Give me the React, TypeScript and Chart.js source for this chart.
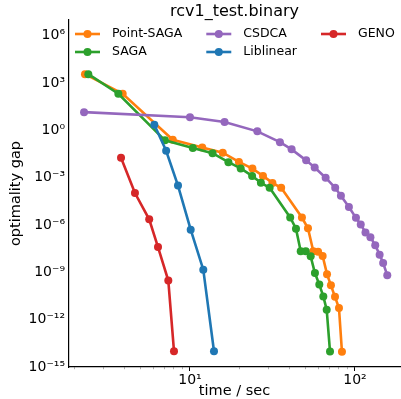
import React, { useEffect, useRef } from 'react';
import { Chart, registerables } from 'chart.js';

Chart.register(...registerables);

const FONT = '"DejaVu Sans", sans-serif';

const chartTitle = 'rcv1_test.binary';
const xAxisTitle = 'time / sec';
const yAxisTitle = 'optimality gap';

const seriesNames = ['Point-SAGA', 'SAGA', 'CSDCA', 'Liblinear', 'GENO'];
const seriesColors = ['#ff7f0e', '#2ca02c', '#9467bd', '#1f77b4', '#d62728'];

const pointSagaTime = [2.31, 3.91, 7.86, 11.87, 15.8, 19.8, 23.9, 27.7, 31.6, 35.7, 47.7, 51.9, 55.9, 59.8, 63.7, 67.7, 71.5, 75.7, 80.0, 83.4];
const pointSagaGap = [3700, 212, 0.257, 0.083, 0.039, 0.010, 3.8e-3, 1.3e-3, 4.7e-4, 2.3e-4, 3.0e-6, 6.2e-7, 2.2e-8, 2.0e-8, 1.1e-8, 7.7e-10, 1.5e-10, 2.8e-11, 5.5e-12, 9.2e-15];

const sagaTime = [2.42, 3.68, 7.05, 10.4, 13.7, 17.1, 20.3, 23.8, 26.9, 30.4, 40.5, 43.9, 46.9, 50.3, 53.9, 57.2, 60.8, 64.3, 67.4, 70.6];
const sagaGap = [3700, 212, 0.235, 0.078, 0.036, 9.7e-3, 3.9e-3, 1.3e-3, 4.8e-4, 2.3e-4, 3.0e-6, 5.9e-7, 2.2e-8, 2.2e-8, 1.04e-8, 9.1e-10, 1.67e-10, 3.0e-11, 4.3e-12, 9.5e-15];

const csdcaTime = [2.28, 10.0, 16.2, 25.6, 35.1, 41.3, 50.6, 57.0, 66.4, 75.9, 82.2, 91.9, 101.4, 108.4, 115.8, 124.1, 132.7, 141.1, 148.2, 157.0];
const csdcaGap = [14.4, 6.9, 3.4, 0.87, 0.18, 0.063, 0.0126, 4.4e-3, 1.0e-3, 2.3e-4, 7.2e-5, 1.38e-5, 2.85e-6, 1.1e-6, 3.4e-7, 1.7e-7, 5.2e-8, 1.33e-8, 3.9e-9, 6.5e-10];

const liblinearTime = [6.08, 7.17, 8.46, 10.1, 12.04, 13.98];
const liblinearGap = [2.29, 5.1e-2, 3.2e-4, 5.1e-7, 1.48e-9, 1.0e-14];

const genoTime = [3.82, 4.64, 5.66, 6.40, 7.39, 8.00];
const genoGap = [1.86e-2, 1.07e-4, 2.3e-6, 4.0e-8, 3.0e-10, 1.0e-14];

const seriesTimes = [pointSagaTime, sagaTime, csdcaTime, liblinearTime, genoTime];
const seriesGaps = [pointSagaGap, sagaGap, csdcaGap, liblinearGap, genoGap];

const xMin = 1.848;
const xMax = 187.5;
const yMin = 1e-15;
const yMax = 1e7;

const xMajorValues = [10, 100];
const xMajorLabels = ['10¹', '10²'];
const xMinorValues = [2, 3, 4, 5, 6, 7, 8, 9, 20, 30, 40, 50, 60, 70, 80, 90];

const yTickValues = [1e-15, 1e-12, 1e-9, 1e-6, 1e-3, 1, 1e3, 1e6];
const yTickLabels = ['10⁻¹⁵', '10⁻¹²', '10⁻⁹', '10⁻⁶', '10⁻³', '10⁰', '10³', '10⁶'];

const LINE_W = 2.6;
const PT_R = 4;

function matchIndex(arr: number[], v: number): number {
  for (let i = 0; i < arr.length; i++) {
    if (Math.abs(Math.log10(arr[i]) - Math.log10(v)) < 1e-6) return i;
  }
  return -1;
}

const mplLegend = {
  id: 'mplLegend',
  afterDraw(chart: any) {
    const ctx = chart.ctx;
    const area = chart.chartArea;
    const fontSize = 12.5;
    ctx.save();
    ctx.font = `${fontSize}px ${FONT}`;
    ctx.textBaseline = 'middle';
    ctx.textAlign = 'left';
    const rows = 2;
    const cols = Math.ceil(seriesNames.length / rows);
    const rowY = [area.top + 14, area.top + 32];
    const handleLen = 25;
    const textGap = 12;
    const colSpacing = 24;
    let colX = area.left + 6;
    for (let c = 0; c < cols; c++) {
      let maxW = 0;
      for (let r = 0; r < rows; r++) {
        const i = c * rows + r;
        if (i >= seriesNames.length) continue;
        const y = rowY[r];
        ctx.strokeStyle = seriesColors[i];
        ctx.lineWidth = LINE_W;
        ctx.beginPath();
        ctx.moveTo(colX, y);
        ctx.lineTo(colX + handleLen, y);
        ctx.stroke();
        ctx.fillStyle = seriesColors[i];
        ctx.beginPath();
        ctx.arc(colX + handleLen / 2, y, PT_R, 0, Math.PI * 2);
        ctx.fill();
        ctx.fillStyle = '#000';
        ctx.fillText(seriesNames[i], colX + handleLen + textGap, y);
        maxW = Math.max(maxW, ctx.measureText(seriesNames[i]).width);
      }
      colX += handleLen + textGap + maxW + colSpacing;
    }
    ctx.restore();
  },
};

export default function App() {
  const ref = useRef<HTMLCanvasElement>(null);
  useEffect(() => {
    if (!ref.current) return;
    const datasets = seriesNames.map((name, i) => ({
      label: name,
      data: seriesTimes[i].map((t, k) => ({ x: t, y: seriesGaps[i][k] })),
      borderColor: seriesColors[i],
      backgroundColor: seriesColors[i],
      pointBackgroundColor: seriesColors[i],
      pointBorderColor: seriesColors[i],
      pointBorderWidth: 0,
      pointRadius: PT_R,
      borderWidth: LINE_W,
      tension: 0,
      fill: false,
      order: seriesNames.length - 1 - i,
    }));
    const chart = new Chart(ref.current, {
      type: 'line',
      data: { datasets },
      options: {
        animation: false,
        responsive: false,
        maintainAspectRatio: false,
        events: [],
        layout: { padding: { left: 0, right: 0, top: 0, bottom: 0 } },
        plugins: {
          legend: { display: false },
          tooltip: { enabled: false },
          title: {
            display: true,
            text: chartTitle,
            fullSize: false,
            color: '#000',
            font: { family: FONT, size: 16, weight: 'normal', lineHeight: 1.0 },
            padding: { top: 4, bottom: 0 },
          },
        },
        scales: {
          x: {
            type: 'logarithmic',
            position: 'bottom',
            min: xMin,
            max: xMax,
            afterBuildTicks: (s: any) => {
              const vals = [...xMinorValues, ...xMajorValues]
                .filter((v) => v >= xMin && v <= xMax)
                .sort((a, b) => a - b);
              s.ticks = vals.map((v) => ({ value: v, major: matchIndex(xMajorValues, v) >= 0 }));
            },
            afterFit: (s: any) => {
              s.height = 32;
            },
            ticks: {
              autoSkip: false,
              maxRotation: 0,
              minRotation: 0,
              padding: 1,
              color: '#000',
              font: { family: FONT, size: 14 },
              callback: (v: any) => {
                const idx = matchIndex(xMajorValues, Number(v));
                return idx >= 0 ? xMajorLabels[idx] : '';
              },
            },
            grid: {
              display: true,
              drawOnChartArea: false,
              drawTicks: true,
              tickLength: 4,
              tickColor: (c: any) => (c.tick && c.tick.major ? '#000' : '#999'),
              tickWidth: (c: any) => (c.tick && c.tick.major ? 1 : 0.8),
              tickBorderDash: (c: any) => (c.tick && c.tick.major ? [] : [2, 20]),
            },
            border: { display: true, color: '#000', width: 1.2 },
            title: {
              display: true,
              text: xAxisTitle,
              color: '#000',
              font: { family: FONT, size: 14.5, lineHeight: 1.1 },
              padding: 0,
            },
          },
          y: {
            type: 'logarithmic',
            position: 'left',
            min: yMin,
            max: yMax,
            afterBuildTicks: (s: any) => {
              s.ticks = yTickValues.map((v) => ({ value: v, major: true }));
            },
            afterFit: (s: any) => {
              s.width = 69;
            },
            ticks: {
              autoSkip: false,
              padding: 4,
              color: '#000',
              font: { family: FONT, size: 14 },
              callback: (v: any) => {
                const idx = matchIndex(yTickValues, Number(v));
                return idx >= 0 ? yTickLabels[idx] : '';
              },
            },
            grid: { display: true, drawOnChartArea: false, drawTicks: false },
            border: { display: true, color: '#000', width: 1.2 },
            title: {
              display: true,
              text: yAxisTitle,
              color: '#000',
              font: { family: FONT, size: 14.5, lineHeight: 1.1 },
              padding: { top: 8, bottom: 0 },
            },
          },
        },
      } as any,
      plugins: [mplLegend],
    });
    return () => chart.destroy();
  }, []);
  return (
    <div style={{ position: 'absolute', left: 0, top: 0, width: 401, height: 399, overflow: 'hidden', background: '#fff' }}>
      <canvas ref={ref} width={404} height={399} style={{ display: 'block', width: 404, height: 399 }} />
    </div>
  );
}
